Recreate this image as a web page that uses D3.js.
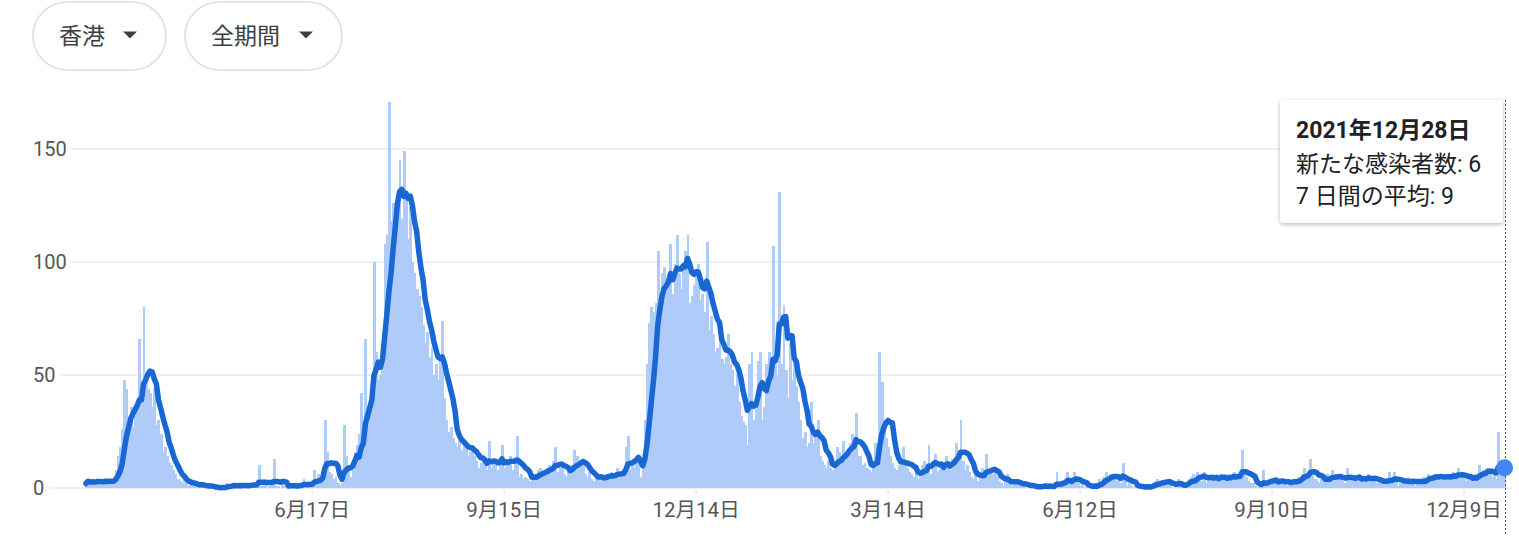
<!DOCTYPE html>
<html><head><meta charset="utf-8">
<script src="https://cdn.jsdelivr.net/npm/d3@7"></script>
<style>
html,body{margin:0;padding:0;background:#fff;}
svg{display:block;}
text{font-family:Roboto,"Noto Sans CJK JP",sans-serif;}
</style></head><body>
<svg id="chart" width="1519" height="536"></svg>
<script>
// Daily new cases, Hong Kong, first day 2020-03-03
const firstDay = [2020, 2, 3];
const mar2020 = [2,4,2,3,2,4,3,2,3,4,2,3,4,3,8,14,18,26,48,44,30,36,27,32,38,66,44,80,48];
const apr2020 = [44,42,36,44,28,30,24,16,18,14,11,10,8,6,4,3,2,4,2,1,3,1,2,0,1,2,1,1,0,1];
const may2020 = [0,0,0,0,0,1,0,2,1,1,2,1,0,1,1,2,1,1,2,1,1,2,10,1,1,2,0,1,2,13,1];
const jun2020 = [1,0,2,1,0,1,2,1,0,1,2,1,4,2,1,0,2,8,3,6,4,9,30,16,7,6,4,5,2,1];
const jul2020 = [2,28,14,10,5,8,16,19,24,42,25,66,32,40,44,100,60,48,50,58,108,112,171,118,126,118,128,145,119,149,128];
const aug2020 = [110,125,100,95,88,85,80,72,64,69,58,62,50,55,48,59,74,40,30,25,27,22,20,18,21,17,19,20,14,16,18];
const sep2020 = [14,12,9,11,13,10,8,21,9,12,10,8,11,19,9,12,10,14,8,11,23,5,6,4,5,4,3,6,6,5];
const oct2020 = [8,9,7,6,9,10,8,12,18,7,9,10,6,5,8,9,10,17,14,9,11,12,6,5,7,4,3,5,4,6,5];
const nov2020 = [4,6,5,7,5,6,9,5,7,6,18,23,8,11,9,12,14,5,10,30,55,73,80,78,82,105,80,95,98,88];
const dec2020 = [90,108,86,99,112,95,88,100,105,112,82,85,90,96,99,83,86,78,109,70,76,68,60,62,67,57,55,58,68,55,52];
const jan2021 = [45,50,38,32,29,28,19,55,60,30,35,56,60,30,36,55,60,50,107,55,50,131,55,81,52,40,64,48,62,45,38];
const feb2021 = [30,22,25,18,20,38,20,22,30,14,12,10,9,12,9,8,10,18,16,12,21,14,16,20,24,22,33,14];
const mar2021 = [14,10,11,9,8,7,11,20,12,60,47,30,22,18,14,11,9,8,10,11,18,12,9,7,6,5,7,4,8,10,12];
const apr2021 = [8,19,6,9,15,7,8,10,9,14,12,8,13,12,20,16,30,12,8,10,7,5,4,6,3,5,9,7,15,6];
const may2021 = [8,6,7,5,3,2,1,4,6,2,1,3,2,1,2,3,1,0,1,0,1,0,1,1,0,2,1,0,1,0,1];
const jun2021 = [7,2,1,3,2,7,2,3,7,4,2,1,2,0,1,0,1,0,2,1,4,3,5,7,4,6,5,6,3,4];
const jul2021 = [2,11,3,1,2,1,0,1,0,1,0,1,0,1,0,2,3,4,2,3,2,2,3,4,0,0,0,4,3,1,0];
const aug2021 = [2,4,5,6,4,7,5,3,7,2,4,5,6,4,5,3,6,4,5,3,6,5,7,4,6,5,17,6,5,3,2];
const sep2021 = [2,1,0,1,2,8,1,3,4,2,3,4,2,3,4,2,1,3,2,4,3,5,4,6,9,5,7,13,6,4];
const oct2021 = [3,2,4,3,5,6,4,8,3,5,4,6,3,2,9,4,5,3,4,5,4,3,5,4,6,3,4,5,2,3,2];
const nov2021 = [2,3,4,7,2,7,3,1,2,3,4,2,5,3,2,1,3,4,2,5,4,6,5,4,6,5,4,6,5,4];
const dec2021 = [5,6,4,7,5,9,4,6,5,3,4,5,3,6,5,10,7,8,6,9,7,5,8,4,25,7,8,6];

const yTicks = [0, 50, 100, 150];
const xTickDates = ["2020-06-17","2020-09-15","2020-12-14","2021-03-14","2021-06-12","2021-09-10","2021-12-09"];
const regionLabel = "香港";
const periodLabel = "全期間";
const tipTitle = "2021年12月28日";
const tipNewLabel = "新たな感染者数";
const tipAvgLabel = "7 日間の平均";

const values = [].concat(mar2020,apr2020,may2020,jun2020,jul2020,aug2020,sep2020,oct2020,nov2020,dec2020,
  jan2021,feb2021,mar2021,apr2021,may2021,jun2021,jul2021,aug2021,sep2021,oct2021,nov2021,dec2021);
const d0 = new Date(firstDay[0], firstDay[1], firstDay[2]);
const data = values.map((v,i)=>({date:d3.timeDay.offset(d0,i), v,
  avg: d3.mean(values.slice(Math.max(0,i-6), i+1))}));
const last = data[data.length-1];

const svg = d3.select("#chart");
const x = d3.scaleTime().domain([data[0].date, last.date]).range([86, 1504.6]);
const y = d3.scaleLinear().domain([0,150]).range([488,149]);

// defs: shadow
const defs = svg.append("defs");
const f = defs.append("filter").attr("id","sh").attr("x","-20%").attr("y","-20%").attr("width","140%").attr("height","150%");
f.append("feDropShadow").attr("dx",0).attr("dy",1.5).attr("stdDeviation",2.2).attr("flood-color","#000").attr("flood-opacity",0.28);

// buttons
function pill(x0, w, label, triX){
  const g = svg.append("g");
  g.append("rect").attr("x",x0).attr("y",2).attr("width",w).attr("height",68).attr("rx",34)
    .attr("fill","#fff").attr("stroke","#dadce0").attr("stroke-width",1.5);
  g.append("text").attr("x",x0+26).attr("y",36).attr("dy","0.35em").attr("font-size",23)
    .attr("fill","#3c4043").text(label);
  g.append("path").attr("d",`M${triX},31.5 L${triX+14},31.5 L${triX+7},38.5 Z`).attr("fill","#3c4043");
}
pill(33, 133, regionLabel, 123);
pill(185, 157, periodLabel, 299);

// y grid + labels
const yg = svg.append("g");
yTicks.forEach(t=>{
  const tx = yg.append("text").attr("x",33).attr("y",y(t)).attr("dy","0.35em")
    .attr("font-size",20).attr("fill","#555").text(t);
  const w = tx.node().getComputedTextLength();
  yg.append("line").attr("x1",33+w+4).attr("x2",1512).attr("y1",y(t)).attr("y2",y(t))
    .attr("stroke","#ebebeb").attr("stroke-width",1.5);
});

// x axis ticks + labels
const fmt = d3.timeFormat("%-m月%-d日");
const parse = d3.timeParse("%Y-%m-%d");
const xg = svg.append("g");
xTickDates.map(parse).forEach(d=>{
  xg.append("line").attr("x1",x(d)).attr("x2",x(d)).attr("y1",489).attr("y2",494)
    .attr("stroke","#ddd").attr("stroke-width",1);
  xg.append("text").attr("x",x(d)).attr("y",517).attr("text-anchor","middle")
    .attr("font-size",20.5).attr("fill","#555").text(fmt(d));
});

// bars
const bw = (x(data[1].date)-x(data[0].date));
svg.append("g").attr("shape-rendering","crispEdges")
  .selectAll("rect").data(data.filter(d=>d.v>0)).join("rect")
  .attr("x",d=>x(d.date)-bw/2).attr("width",bw+0.8)
  .attr("y",d=>y(d.v)).attr("height",d=>y(0)-y(d.v))
  .attr("fill","#aecbfa");

// average line
svg.append("path").datum(data)
  .attr("d", d3.line().x(d=>x(d.date)).y(d=>y(d.avg)))
  .attr("fill","none").attr("stroke","#1967d2").attr("stroke-width",5.5)
  .attr("stroke-linejoin","round").attr("stroke-linecap","round");

// tooltip
const tg = svg.append("g");
tg.append("rect").attr("x",1280).attr("y",100).attr("width",223).attr("height",123).attr("rx",4)
  .attr("fill","#fff").attr("filter","url(#sh)");
tg.append("text").attr("x",1296).attr("y",138).attr("font-size",23).attr("font-weight","bold")
  .attr("fill","#202124").text(tipTitle);
tg.append("text").attr("x",1296).attr("y",172).attr("font-size",23).attr("fill","#202124")
  .text(`${tipNewLabel}: ${last.v}`);
tg.append("text").attr("x",1296).attr("y",204).attr("font-size",23).attr("fill","#202124")
  .text(`${tipAvgLabel}: ${Math.round(last.avg)}`);

// hover rule + dot
svg.append("line").attr("x1",1505.5).attr("x2",1505.5).attr("y1",100).attr("y2",536)
  .attr("stroke","#555").attr("stroke-width",1).attr("stroke-dasharray","2,2");
svg.append("circle").attr("cx",x(last.date)).attr("cy",y(last.avg)).attr("r",8.5)
  .attr("fill","#4285f4");
</script>
</body></html>
